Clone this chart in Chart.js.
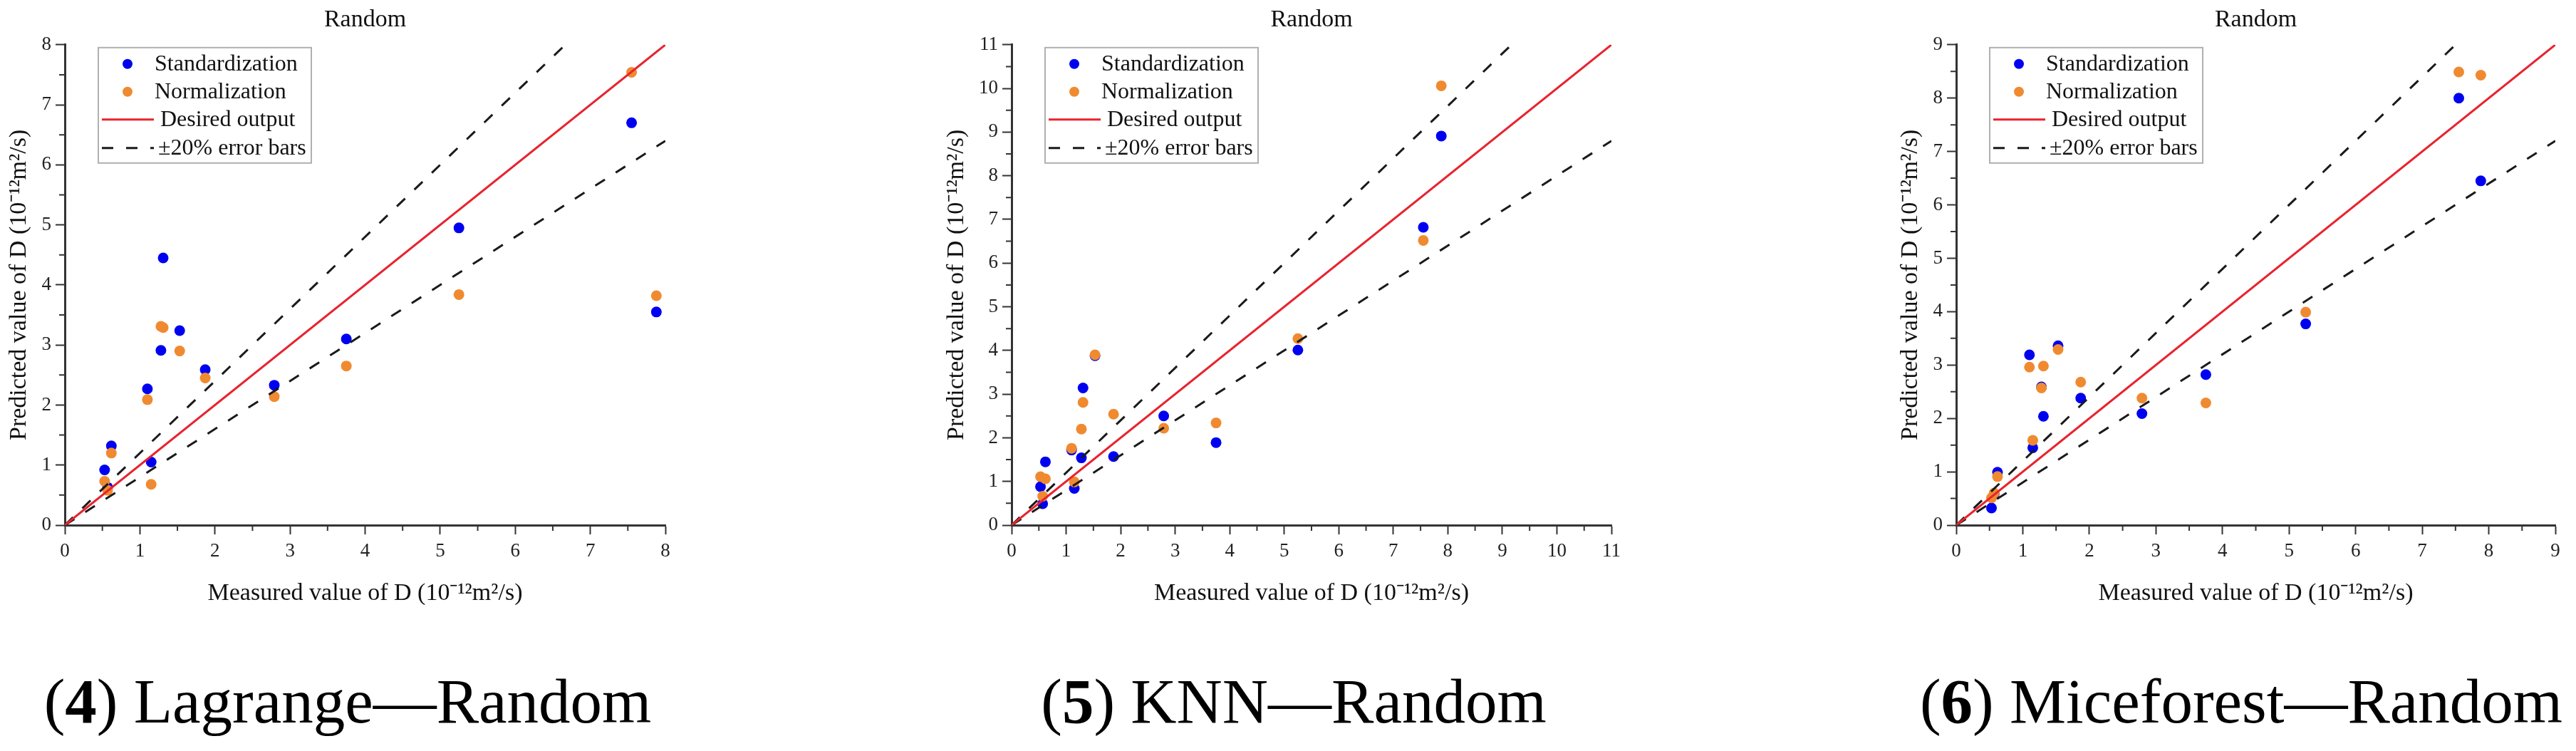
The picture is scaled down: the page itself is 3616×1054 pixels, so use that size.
<!DOCTYPE html>
<html>
<head>
<meta charset="utf-8">
<script src="https://cdn.jsdelivr.net/npm/chart.js@4.4.1/dist/chart.umd.min.js"></script>
<style>
  html, body { margin: 0; padding: 0; background: #fff; }
  body { width: 3616px; height: 1054px; position: relative; overflow: hidden; }
  .panel { position: absolute; top: 0; height: 880px; }
  .caption {
    position: absolute; top: 940px; line-height: 1;
    font-family: "Liberation Serif", serif; font-size: 89px; color: #000;
    white-space: nowrap; transform: translateX(-50%);
  }
</style>
</head>
<body>
<div class="panel" style="left:0px;width:974px"><canvas id="c1"></canvas></div>
<div class="panel" style="left:1320px;width:982px"><canvas id="c2"></canvas></div>
<div class="panel" style="left:2655px;width:952px"><canvas id="c3"></canvas></div>
<div class="caption" style="left:488px">(<b>4</b>) Lagrange—Random</div>
<div class="caption" style="left:1816px">(<b>5</b>) KNN—Random</div>
<div class="caption" style="left:3146px">(<b>6</b>) Miceforest—Random</div>

<script>
// measured D values (10^-12 m2/s), same samples in every panel
const measured = [0.53, 0.57, 0.62, 1.10, 1.15, 1.28, 1.31, 1.53, 1.87, 2.79, 3.75, 5.25, 7.55, 7.88];

// predicted values
const lagrangeStd  = [0.92, 0.63, 1.32, 2.27, 1.05, 2.91, 4.45, 3.24, 2.59, 2.33, 3.10, 4.95, 6.70, 3.55];
const lagrangeNorm = [0.73, 0.58, 1.20, 2.09, 0.68, 3.31, 3.29, 2.90, 2.45, 2.14, 2.65, 3.84, 7.54, 3.82];

const knnStd  = [0.88, 0.49, 1.45, 1.72, 0.84, 1.54, 3.14, 3.88, 1.57, 2.50, 1.89, 4.01, 6.82, 8.91];
const knnNorm = [1.11, 0.66, 1.06, 1.76, 0.99, 2.20, 2.81, 3.90, 2.54, 2.22, 2.34, 4.27, 6.52, 10.06];

const miceStd  = [0.32, 0.58, 0.99, 3.19, 1.45, 2.59, 2.04, 3.36, 2.38, 2.09, 2.82, 3.77, 8.00, 6.45];
const miceNorm = [0.51, 0.60, 0.91, 2.96, 1.59, 2.57, 2.98, 3.29, 2.68, 2.38, 2.29, 3.99, 8.49, 8.43];

const axisMax = [8, 11, 9];
const errorBand = 0.2; // +-20% lines

const seriesNames = ["Standardization", "Normalization", "Desired output", "\u00b120% error bars"];

const FONT = '"Liberation Serif", "Times New Roman", serif';
const AXIS = "#333";
const BLUE = "#0000f0";
const ORANGE = "#f08a30";
const RED = "#e8232e";
const DASH = [16, 18];

Chart.defaults.font.family = FONT;
Chart.defaults.color = "#111";

const toPoints = (xs, ys) => xs.map((x, i) => ({ x: x, y: ys[i] }));

// short ticks halfway between the labelled ones
const minorTicks = {
  id: "minorTicks",
  afterDraw(chart) {
    const { ctx, chartArea, scales } = chart;
    ctx.save();
    ctx.strokeStyle = AXIS;
    ctx.lineWidth = 2;
    ctx.beginPath();
    for (let v = 0.5; v < scales.x.max; v += 1) {
      const px = scales.x.getPixelForValue(v);
      ctx.moveTo(px, chartArea.bottom);
      ctx.lineTo(px, chartArea.bottom + 8);
    }
    for (let v = 0.5; v < scales.y.max; v += 1) {
      const py = scales.y.getPixelForValue(v);
      ctx.moveTo(chartArea.left, py);
      ctx.lineTo(chartArea.left - 8, py);
    }
    ctx.stroke();
    ctx.restore();
  },
};

// boxed legend in the upper left of the plot
const boxLegend = {
  id: "boxLegend",
  afterDraw(chart) {
    const { ctx, chartArea } = chart;
    const items = chart.data.datasets.filter(d => d.inLegend);
    const bx = chartArea.left + 47, by = chartArea.top + 4;
    const rows = [23, 62, 101, 141];
    ctx.save();
    ctx.fillStyle = "#fff";
    ctx.fillRect(bx, by, 299, 162);
    ctx.strokeStyle = "#b0b0b0";
    ctx.lineWidth = 2;
    ctx.strokeRect(bx, by, 299, 162);
    ctx.font = "32px " + FONT;
    ctx.textBaseline = "middle";
    items.forEach((d, i) => {
      const y = by + rows[i];
      let tx = bx + 79;
      if (d.showLine) {
        ctx.strokeStyle = d.borderColor;
        ctx.lineWidth = 3;
        ctx.setLineDash(d.borderDash || []);
        ctx.beginPath();
        ctx.moveTo(bx + 5, y);
        ctx.lineTo(bx + 78, y);
        ctx.stroke();
        ctx.setLineDash([]);
        tx = bx + (d.borderDash ? 84 : 87);
      } else {
        ctx.fillStyle = d.backgroundColor;
        ctx.beginPath();
        ctx.arc(bx + 41, y, 7, 0, Math.PI * 2);
        ctx.fill();
      }
      ctx.fillStyle = "#111";
      ctx.fillText(d.label, tx, y + 1);
    });
    ctx.restore();
  },
};

function makeChart(id, std, norm, max, yWidth, yTitlePad, rightPad) {
  const datasets = [
    { label: seriesNames[0], data: toPoints(measured, std), backgroundColor: BLUE,
      pointRadius: 7.5, borderWidth: 0, order: 2, inLegend: true },
    { label: seriesNames[1], data: toPoints(measured, norm), backgroundColor: ORANGE,
      pointRadius: 7.5, borderWidth: 0, order: 1, inLegend: true },
    { label: seriesNames[2], data: [{ x: 0, y: 0 }, { x: max, y: max }], showLine: true,
      borderColor: RED, borderWidth: 3, pointRadius: 0, order: 0, inLegend: true },
    { label: seriesNames[3], data: [{ x: 0, y: 0 }, { x: max / (1 + errorBand), y: max }], showLine: true,
      borderColor: "#1a1a1a", borderWidth: 3, borderDash: DASH, pointRadius: 0, order: 0, inLegend: true },
    { label: "", data: [{ x: 0, y: 0 }, { x: max, y: max * (1 - errorBand) }], showLine: true,
      borderColor: "#1a1a1a", borderWidth: 3, borderDash: DASH, pointRadius: 0, order: 0 },
  ];

  const tickFont = { size: 27, family: FONT };
  const titleFont = { size: 34, family: FONT, weight: "normal" };

  return new Chart(document.getElementById(id), {
    type: "scatter",
    data: { datasets },
    plugins: [minorTicks, boxLegend],
    options: {
      responsive: true,
      maintainAspectRatio: false,
      devicePixelRatio: 1,
      animation: false,
      layout: { autoPadding: false, padding: { left: 0, right: rightPad, top: 0, bottom: 0 } },
      plugins: {
        legend: { display: false },
        tooltip: { enabled: false },
        title: {
          display: true, text: "Random", fullSize: false, color: "#111",
          font: titleFont, padding: { top: 8, bottom: 14 },
        },
      },
      scales: {
        x: {
          type: "linear", min: 0, max: max,
          ticks: { stepSize: 1, font: tickFont, color: "#222", padding: 8, maxRotation: 0 },
          grid: { drawOnChartArea: false, tickLength: 13, tickWidth: 2, tickColor: AXIS },
          border: { display: true, color: AXIS, width: 3 },
          title: { display: true, text: "Measured value of D (10\u207b\u00b9\u00b2m\u00b2/s)",
                   font: titleFont, color: "#111", padding: { top: 0, bottom: 27 } },
          afterFit: s => { s.height = 143; },
        },
        y: {
          type: "linear", min: 0, max: max,
          ticks: { stepSize: 1, font: tickFont, color: "#222", padding: 6 },
          grid: { drawOnChartArea: false, tickLength: 13, tickWidth: 2, tickColor: AXIS },
          border: { display: true, color: AXIS, width: 3 },
          title: { display: true, text: "Predicted value of D (10\u207b\u00b9\u00b2m\u00b2/s)",
                   font: titleFont, color: "#111", padding: { top: yTitlePad, bottom: 0 } },
          afterFit: s => { s.width = yWidth; },
        },
      },
    },
  });
}

makeChart("c1", lagrangeStd, lagrangeNorm, axisMax[0], 91, 7, 40);
makeChart("c2", knnStd, knnNorm, axisMax[1], 100, 3, 40);
makeChart("c3", miceStd, miceNorm, axisMax[2], 91, 7, 20);
</script>
</body>
</html>
